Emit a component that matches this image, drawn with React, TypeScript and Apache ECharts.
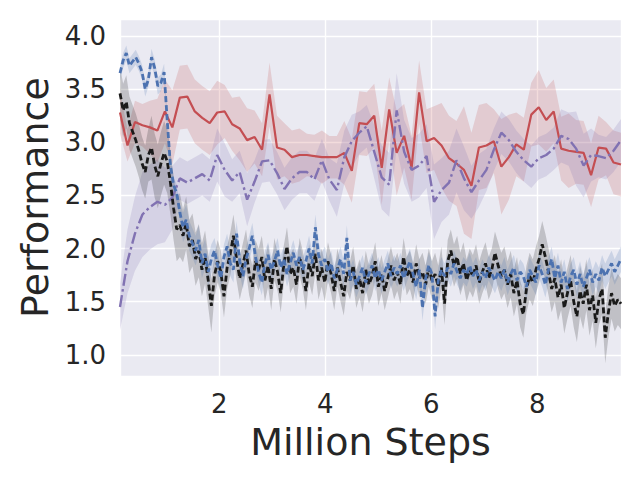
import React, { useEffect, useRef } from "react";
import * as echarts from "echarts";

// ---- axis extents (Million Steps / Performance) ----
const X_MIN = 0.126;
const X_MAX = 9.58;
const Y_MIN = 0.8;
const Y_MAX = 4.16;

// ---- sparse series (68 evaluations) ----
const redMean = [
  3.28, 2.97, 3.19, 3.16, 3.14, 3.11, 3.29, 3.14, 3.42, 3.43,
  3.29, 3.23, 3.18, 3.28, 3.29, 3.17, 3.13, 3.02, 3.05, 2.93,
  3.45, 2.95, 2.93, 2.86, 2.88, 2.88, 2.87, 2.86, 2.86, 2.86,
  2.90, 2.73, 3.18, 3.17, 3.25, 2.76, 3.31, 2.90, 3.06, 2.76,
  3.47, 3.01, 3.04, 2.97, 2.85, 2.80, 2.74, 2.59, 2.95, 2.97,
  3.01, 2.77, 2.86, 2.98, 2.93, 3.26, 3.33, 3.21, 3.29, 2.94,
  2.92, 2.91, 2.90, 2.69, 2.95, 2.94, 2.81, 2.79,
];
const redSpread = [
  0.20, 0.15, 0.20, 0.20, 0.25, 0.30, 0.30, 0.35, 0.30, 0.30,
  0.30, 0.30, 0.30, 0.30, 0.25, 0.25, 0.30, 0.30, 0.25, 0.25,
  0.30, 0.30, 0.25, 0.25, 0.25, 0.20, 0.20, 0.25, 0.20, 0.20,
  0.30, 0.30, 0.30, 0.30, 0.30, 0.35, 0.30, 0.40, 0.30, 0.30,
  0.30, 0.30, 0.30, 0.40, 0.40, 0.40, 0.60, 0.50, 0.40, 0.40,
  0.30, 0.45, 0.40, 0.30, 0.30, 0.30, 0.35, 0.30, 0.30, 0.30,
  0.35, 0.30, 0.30, 0.30, 0.30, 0.25, 0.30, 0.30,
];
const purpleMean = [
  1.45, 1.88, 2.14, 2.32, 2.39, 2.44, 2.41, 2.48, 2.66, 2.62,
  2.66, 2.70, 2.64, 2.88, 2.74, 2.64, 2.72, 2.46, 2.63, 2.82,
  2.83, 2.71, 2.56, 2.66, 2.72, 2.72, 2.65, 2.83, 2.65, 2.55,
  2.86, 3.01, 3.09, 3.15, 2.91, 2.67, 2.60, 3.30, 2.91, 2.74,
  2.78, 2.87, 2.44, 2.55, 2.62, 2.83, 2.66, 2.53, 2.64, 2.74,
  2.93, 3.09, 3.02, 2.91, 2.83, 2.77, 2.85, 2.88, 2.94, 3.06,
  3.03, 2.94, 2.78, 2.88, 2.87, 2.85, 2.92, 3.02,
];
const purpleSpread = [
  0.22, 0.30, 0.35, 0.40, 0.40, 0.40, 0.35, 0.30, 0.20, 0.20,
  0.20, 0.20, 0.20, 0.25, 0.25, 0.20, 0.20, 0.25, 0.20, 0.20,
  0.20, 0.20, 0.20, 0.20, 0.20, 0.20, 0.20, 0.20, 0.20, 0.25,
  0.25, 0.25, 0.20, 0.20, 0.25, 0.30, 0.30, 0.35, 0.30, 0.30,
  0.30, 0.30, 0.35, 0.30, 0.30, 0.30, 0.30, 0.25, 0.25, 0.20,
  0.20, 0.20, 0.20, 0.20, 0.20, 0.20, 0.20, 0.20, 0.20, 0.25,
  0.25, 0.35, 0.30, 0.25, 0.20, 0.20, 0.20, 0.20,
];

// ---- dense series (160 evaluations) ----
const blackMean = [
  3.46, 3.30, 3.38, 3.18, 3.10, 3.02, 2.92, 2.80, 2.72, 2.88,
  2.95, 2.78, 2.68, 2.80, 2.90, 2.82, 2.62, 2.38, 2.18, 2.22,
  2.12, 2.24, 2.02, 2.08, 1.90, 1.98, 1.80, 1.92, 1.70, 1.46,
  1.75, 1.88, 1.78, 1.55, 1.82, 1.95, 2.12, 1.90, 1.72, 1.85,
  1.98, 1.76, 1.64, 1.88, 1.80, 1.92, 1.70, 1.84, 1.62, 1.90,
  1.78, 1.58, 1.85, 2.02, 1.76, 1.82, 1.66, 1.92, 1.80, 1.60,
  1.86, 1.74, 1.95, 1.70, 1.82, 1.68, 1.88, 1.76, 1.60, 1.82,
  1.68, 1.55, 1.78, 1.70, 1.84, 1.62, 1.72, 1.58, 1.80, 1.66,
  1.74, 1.88, 1.64, 1.76, 1.60, 1.72, 1.84, 1.70, 1.78, 1.66,
  1.92, 1.74, 1.80, 1.68, 1.86, 1.72, 1.78, 1.66, 1.82, 1.70,
  1.76, 1.64, 1.82, 1.48, 1.88, 1.98, 1.84, 1.92, 1.76, 1.86,
  1.70, 1.80, 1.74, 1.84, 1.68, 1.78, 1.86, 1.72, 1.80, 1.96,
  1.84, 1.74, 1.80, 1.66, 1.76, 1.58, 1.70, 1.48, 1.38, 1.62,
  1.74, 1.68, 1.80, 1.90, 2.04, 1.92, 1.78, 1.62, 1.72, 1.54,
  1.66, 1.44, 1.58, 1.70, 1.50, 1.36, 1.60, 1.48, 1.66, 1.42,
  1.56, 1.30, 1.52, 1.62, 1.16, 1.40, 1.58, 1.46, 1.52, 1.48,
];
const blueMean = [
  3.65, 3.77, 3.84, 3.72, 3.76, 3.80, 3.74, 3.66, 3.50, 3.59,
  3.80, 3.70, 3.53, 3.56, 3.66, 3.20, 2.78, 2.60, 2.52, 2.34,
  2.20, 2.27, 2.12, 2.05, 1.98, 2.08, 1.86, 1.95, 1.78, 1.90,
  1.98, 1.84, 1.72, 1.92, 2.02, 1.86, 1.80, 2.14, 1.88, 1.74,
  1.90, 2.00, 2.12, 1.92, 1.78, 1.68, 1.86, 1.94, 1.80, 1.88,
  1.98, 1.82, 1.90, 1.76, 1.86, 1.96, 1.84, 1.92, 1.80, 1.88,
  2.00, 1.86, 2.20, 1.94, 1.84, 1.90, 1.78, 1.86, 1.72, 1.80,
  1.90, 1.76, 2.10, 1.70, 1.78, 1.66, 1.74, 1.82, 1.68, 1.76,
  1.84, 1.72, 1.80, 1.70, 1.78, 1.86, 1.74, 1.82, 1.76, 1.84,
  1.72, 1.80, 1.88, 1.76, 1.64, 1.80, 1.44, 1.72, 1.84, 1.76,
  1.36, 1.70, 1.80, 1.74, 1.82, 1.76, 1.86, 1.78, 1.72, 1.80,
  1.76, 1.84, 1.74, 1.80, 1.70, 1.78, 1.72, 1.82, 1.76, 1.70,
  1.78, 1.72, 1.80, 1.68, 1.76, 1.82, 1.70, 1.78, 1.74, 1.64,
  1.80, 1.74, 1.68, 1.84, 1.76, 1.66, 1.80, 1.90, 1.72, 1.84,
  1.68, 1.78, 1.62, 1.74, 1.80, 1.66, 1.76, 1.64, 1.72, 1.80,
  1.68, 1.76, 1.70, 1.82, 1.74, 1.80, 1.86, 1.78, 1.84, 1.90,
];
// spread per block of 10 dense evaluations
const blackSpreadBlocks = [0.25, 0.30, 0.25, 0.20, 0.20, 0.18, 0.18, 0.18, 0.18, 0.18, 0.20, 0.20, 0.22, 0.22, 0.24, 0.24];
const blueSpreadBlocks = [0.07, 0.08, 0.14, 0.12, 0.12, 0.12, 0.12, 0.12, 0.12, 0.12, 0.12, 0.12, 0.12, 0.12, 0.12, 0.12];

const RED = "#C44E52";
const PURPLE = "#8172B2";
const BLUE = "#4C72B0";
const BLACK = "#1A1A1A";
const TEXT = "#262626";
const FONT = "DejaVu Sans";

function evalSteps(n: number): number[] {
  const step = (X_MAX - X_MIN) / (n - 1);
  return Array.from({ length: n }, (_, i) => X_MIN + i * step);
}

// shaded band drawn as one polygon through the chart's own coordinate system
function band(name: string, xs: number[], mean: number[], spreadAt: (i: number) => number, color: string) {
  const rows = xs.map((x, i) => [x, mean[i] - spreadAt(i), mean[i] + spreadAt(i)]);
  return {
    type: "custom",
    name: name + "-band",
    data: rows,
    encode: { x: 0, y: [1, 2] },
    silent: true,
    clip: true,
    renderItem: (params: any, api: any) => {
      if (params.dataIndex !== 0) return null;
      const upper = rows.map((r) => api.coord([r[0], r[2]]));
      const lower = rows.map((r) => api.coord([r[0], r[1]])).reverse();
      return {
        type: "polygon",
        shape: { points: upper.concat(lower) },
        style: { fill: color, opacity: 0.2 },
        silent: true,
      };
    },
  };
}

function line(name: string, xs: number[], mean: number[], color: string, width: number, type: any) {
  return {
    type: "line",
    name,
    data: xs.map((x, i) => [x, mean[i]]),
    symbol: "none",
    lineStyle: { color, width, type },
    itemStyle: { color },
    silent: true,
    clip: true,
  };
}

export default function App() {
  const ref = useRef<HTMLDivElement>(null);
  useEffect(() => {
    if (!ref.current) return;
    const chart = echarts.init(ref.current, undefined, { renderer: "svg" });
    const xsSparse = evalSteps(redMean.length);
    const xsDense = evalSteps(blackMean.length);
    const option = {
      animation: false,
      textStyle: { fontFamily: FONT, color: TEXT },
      grid: {
        left: 120,
        right: 19,
        top: 19,
        bottom: 104,
        show: true,
        backgroundColor: "#EAEAF2",
        borderWidth: 0,
      },
      xAxis: {
        type: "value",
        min: X_MIN,
        max: X_MAX,
        splitNumber: 5,
        name: "Million Steps",
        nameLocation: "middle",
        nameGap: 47,
        nameTextStyle: { fontSize: 38, color: TEXT, fontFamily: FONT },
        axisLine: { show: false },
        axisTick: { show: false },
        axisLabel: {
          fontSize: 26,
          color: TEXT,
          fontFamily: FONT,
          margin: 15,
          showMinLabel: false,
          showMaxLabel: false,
          formatter: (v: number) => String(Math.round(v)),
        },
        splitLine: { show: true, lineStyle: { color: "#FFFFFF", width: 1.4 } },
      },
      yAxis: {
        type: "value",
        min: Y_MIN,
        max: Y_MAX,
        splitNumber: 7,
        name: "Performance",
        nameLocation: "middle",
        nameGap: 61,
        nameTextStyle: { fontSize: 38, color: TEXT, fontFamily: FONT },
        axisLine: { show: false },
        axisTick: { show: false },
        axisLabel: {
          fontSize: 26,
          color: TEXT,
          fontFamily: FONT,
          margin: 14,
          showMinLabel: false,
          showMaxLabel: false,
          formatter: (v: number) => v.toFixed(1),
        },
        splitLine: { show: true, lineStyle: { color: "#FFFFFF", width: 1.4 } },
      },
      series: [
        band("red", xsSparse, redMean, (i) => redSpread[i], RED),
        band("purple", xsSparse, purpleMean, (i) => purpleSpread[i], PURPLE),
        band("black", xsDense, blackMean, (i) => blackSpreadBlocks[Math.floor(i / 10)], BLACK),
        band("blue", xsDense, blueMean, (i) => blueSpreadBlocks[Math.floor(i / 10)], BLUE),
        line("red", xsSparse, redMean, RED, 2.2, "solid"),
        line("purple", xsSparse, purpleMean, PURPLE, 2.4, [12, 3.5, 2.5, 3.5]),
        line("black", xsDense, blackMean, BLACK, 2.8, [6, 3]),
        line("blue", xsDense, blueMean, BLUE, 2.8, [6, 3]),
      ],
    };
    chart.setOption(option as any);
    return () => chart.dispose();
  }, []);
  return (
    <div
      ref={ref}
      style={{ position: "fixed", left: 0, top: 0, width: 640, height: 480, background: "#FFFFFF" }}
    />
  );
}
